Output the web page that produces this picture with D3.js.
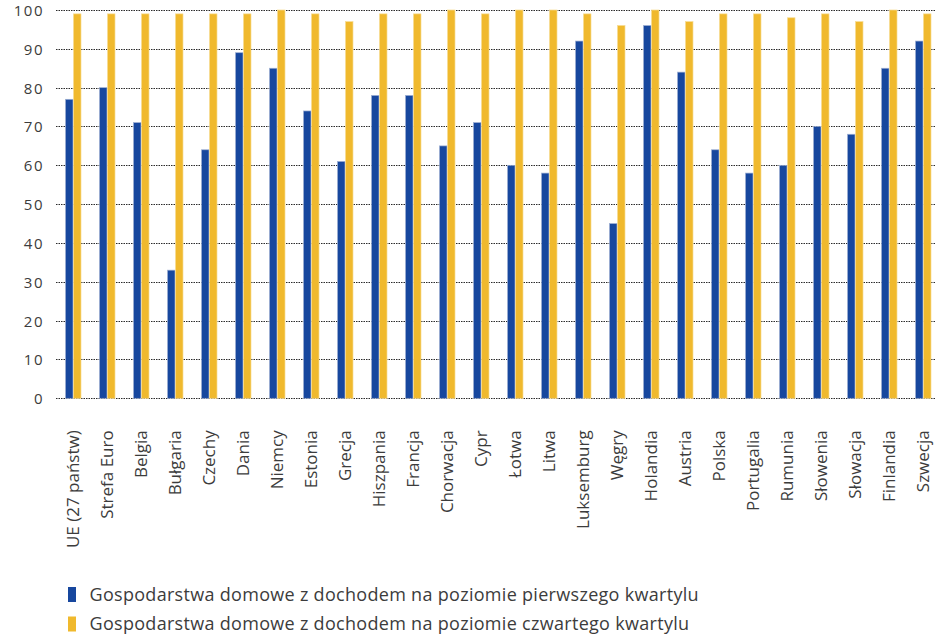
<!DOCTYPE html>
<html>
<head>
<meta charset="utf-8">
<script src="https://cdn.jsdelivr.net/npm/d3@7"></script>
<style>
  body { margin: 0; background: #ffffff; }
  #chart text { font-family: "Open Sans", sans-serif; fill: #3c3c3c; }
</style>
</head>
<body>
<div id="chart"></div>
<script>
// data
const categories = ["UE (27 państw)", "Strefa Euro", "Belgia", "Bułgaria", "Czechy", "Dania",
  "Niemcy", "Estonia", "Grecja", "Hiszpania", "Francja", "Chorwacja", "Cypr", "Łotwa", "Litwa",
  "Luksemburg", "Węgry", "Holandia", "Austria", "Polska", "Portugalia", "Rumunia", "Słowenia",
  "Słowacja", "Finlandia", "Szwecja"];
const firstQuartile = [77, 80, 71, 33, 64, 89, 85, 74, 61, 78, 78, 65, 71, 60, 58, 92, 45, 96,
  84, 64, 58, 60, 70, 68, 85, 92];
const fourthQuartile = [99, 99, 99, 99, 99, 99, 100, 99, 97, 99, 99, 100, 99, 100, 100, 99, 96,
  100, 97, 99, 99, 98, 99, 97, 100, 99];
const seriesNames = ["Gospodarstwa domowe z dochodem na poziomie pierwszego kwartylu",
  "Gospodarstwa domowe z dochodem na poziomie czwartego kwartylu"];
const yTicks = [0, 10, 20, 30, 40, 50, 60, 70, 80, 90, 100];

const WIDTH = 935;
const HEIGHT = 637;
const PLOT_LEFT = 56;
const PLOT_RIGHT = 940;
const Y_TOP = 10;
const Y_BOTTOM = 398.3;

const COLORS = ["#17479e", "#f0b92d"];
const STROKES = ["#9fb0d3", "#f7dc93"];

function setCanvas() {
  return d3.select("#chart").append("svg")
    .attr("width", WIDTH)
    .attr("height", HEIGHT);
}

function setScales() {
  let xScale = d3.scaleBand().domain(categories).range([PLOT_LEFT, PLOT_RIGHT]).padding(0);
  let sub = d3.scaleBand().domain([0, 1]).range([9.5, 25.5]).padding(0);
  let yScale = d3.scaleLinear().domain([0, 100]).range([Y_BOTTOM, Y_TOP]);
  return { xScale: xScale, sub: sub, yScale: yScale };
}

function setGridLines(svg, scales) {
  svg.append("g")
    .selectAll("line")
    .data(yTicks)
    .enter()
    .append("line")
    .attr("x1", PLOT_LEFT)
    .attr("x2", WIDTH)
    .attr("y1", d => Math.round(scales.yScale(d)) + 0.5)
    .attr("y2", d => Math.round(scales.yScale(d)) + 0.5)
    .attr("stroke", "#2a2a2a")
    .attr("stroke-width", 1)
    .attr("stroke-dasharray", "1.5,1");
}

function setAxis(svg, scales) {
  // y axis: labels only
  let yAxis = d3.axisLeft(scales.yScale).tickValues(yTicks).tickSize(0).tickPadding(0);
  svg.append("g")
    .attr("transform", "translate(44,0)")
    .call(yAxis)
    .call(g => g.select(".domain").remove())
    .selectAll("text")
    .attr("dy", "0.36em")
    .style("font-size", "15px")
    .style("letter-spacing", "1.5px");

  // x axis: rotated labels, centred on the bar pair
  let xAxis = d3.axisBottom(scales.xScale).tickSize(0).tickPadding(0);
  svg.append("g")
    .attr("transform", "translate(0.5," + Y_BOTTOM + ")")
    .call(xAxis)
    .call(g => g.select(".domain").remove())
    .selectAll("text")
    .attr("transform", "rotate(-90)")
    .attr("x", -32)
    .attr("y", 0)
    .attr("dy", "0.35em")
    .style("text-anchor", "end")
    .style("font-size", "17px");
}

function drawBars(svg, scales) {
  let rows = categories.map((c, i) => ({ name: c, values: [firstQuartile[i], fourthQuartile[i]] }));
  let groups = svg.append("g")
    .selectAll("g")
    .data(rows)
    .enter()
    .append("g")
    .attr("transform", d => "translate(" + scales.xScale(d.name) + ",0)");

  groups.selectAll("rect")
    .data(d => d.values.map((v, k) => ({ k: k, v: v })))
    .enter()
    .append("rect")
    .attr("x", d => scales.sub(d.k))
    .attr("width", scales.sub.bandwidth() - 0.5)
    .attr("y", d => scales.yScale(d.v))
    .attr("height", d => Y_BOTTOM - scales.yScale(d.v))
    .attr("fill", d => COLORS[d.k])
    .attr("stroke", d => STROKES[d.k])
    .attr("stroke-width", 0.7);
}

function setLegend(svg) {
  let legend = svg.append("g")
    .selectAll("g")
    .data(seriesNames)
    .enter()
    .append("g")
    .attr("transform", (d, i) => "translate(68," + (594.5 + i * 29.5) + ")");

  legend.append("rect")
    .attr("x", 0)
    .attr("y", -7.5)
    .attr("width", 8)
    .attr("height", 15)
    .attr("fill", (d, i) => COLORS[i]);

  legend.append("text")
    .attr("x", 21.5)
    .attr("y", 0)
    .attr("dy", "0.35em")
    .style("font-size", "18px")
    .style("letter-spacing", "0.3px")
    .text(d => d);
}

let svg = setCanvas();
let scales = setScales();
setGridLines(svg, scales);
drawBars(svg, scales);
setAxis(svg, scales);
setLegend(svg);
</script>
</body>
</html>
